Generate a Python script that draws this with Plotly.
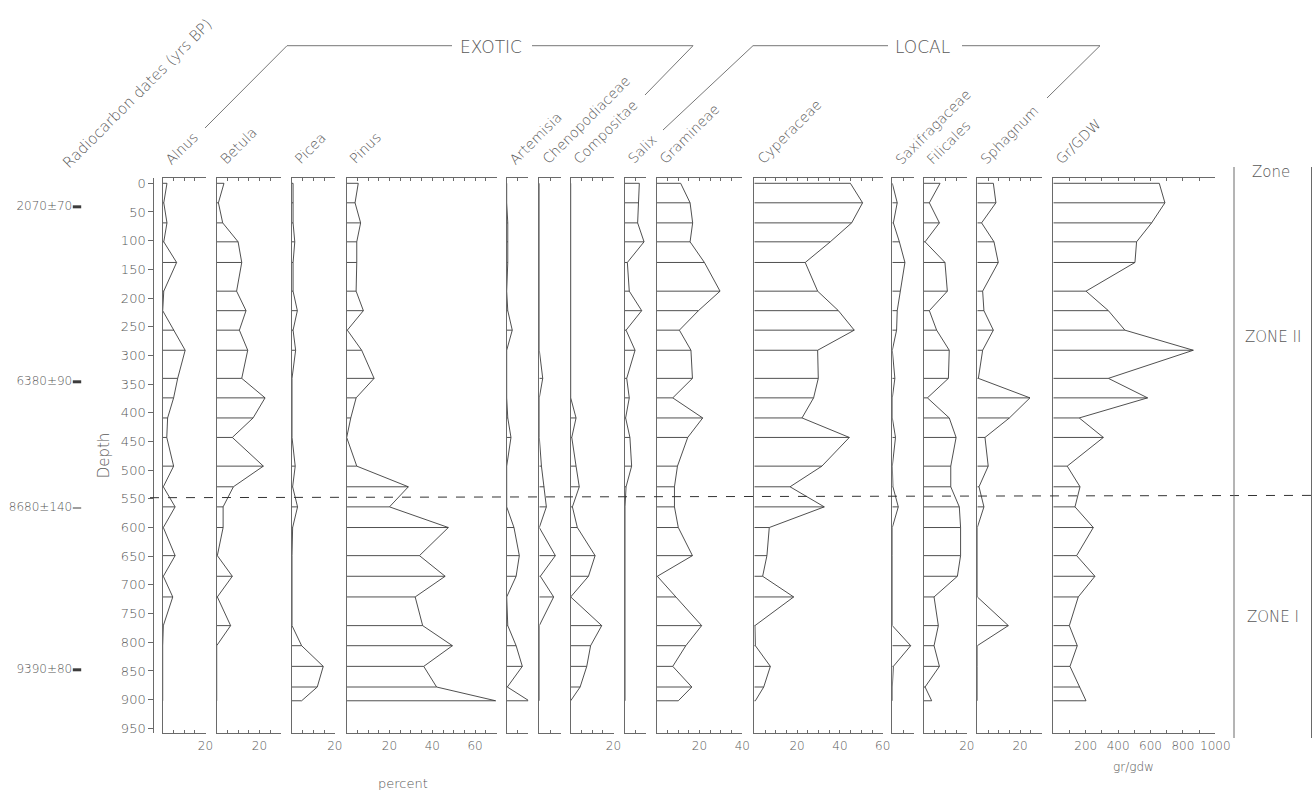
import plotly.graph_objects as go

W, H = 1313, 790

# ---------------- data ----------------
depths = [0, 34, 69, 102, 138, 188, 222, 256, 291, 340, 374, 409, 443, 493, 529,
          564, 600, 649, 685, 721, 771, 806, 842, 878, 902]

taxa = ["Alnus", "Betula", "Picea", "Pinus", "Artemisia", "Chenopodiaceae", "Compositae",
        "Salix", "Gramineae", "Cyperaceae", "Saxifragaceae", "Filicales", "Sphagnum", "Gr/GDW"]

alnus = [2, 0.5, 2, 0.5, 6.5, 0.5, 0, 5.3, 10.5, 7, 5.1, 2.3, 1.9, 5.1, 0.3,
         5.8, 0.3, 5.8, 0.3, 4.7, 0.3, 0, 0, 0, 0]
betula = [3.4, 0.8, 2.8, 10, 11.7, 9.3, 13.7, 10.6, 14.5, 11.7, 22.6, 17, 7.3, 21.8, 7.8,
          3, 3, 0.3, 7.3, 0.3, 6.5, 0, 0, 0, 0]
picea = [0.5, 0.5, 0.5, 1.3, 0.5, 0.5, 2.5, 0.5, 1.7, 0, 0, 0, 0, 1.5, 0.3,
         2.6, 0.3, 0, 0, 0, 0, 4.5, 14.6, 11.8, 4.5]
pinus = [5.4, 3.9, 6.5, 4.7, 4.7, 4.4, 7.8, 0.3, 7, 12.8, 4.4, 1.9, 0, 4.7, 28.8,
         20, 47.5, 34, 46, 32, 35.5, 49.4, 36, 42, 69.6]
artemisia = [0, 0, 0.5, 0.5, 0.5, 0, 0.5, 2.6, 0, 0, 0, 0.5, 2, 0, 0,
             0, 3.4, 5.9, 4.4, 0, 0.5, 4.4, 7.3, 0.3, 10.4]
chenopodiaceae = [0, 0, 0, 0, 0, 0, 0, 0, 0, 1.6, 0, 0, 0, 1, 2.3,
                  3.3, 0, 7.5, 0.5, 6.7, 0, 0, 0, 0, 0]
compositae = [0, 0, 0, 0, 0, 0, 0, 0, 0, 0, 0, 2.5, 0.5, 2.5, 4,
              0.8, 3.1, 11.4, 8.3, 0, 14.5, 9.3, 7.5, 4.4, 0]
salix = [6.7, 6.2, 5.9, 8.9, 1.1, 2, 7.8, 0.5, 4.7, 0.8, 2, 0.3, 2.3, 3.1, 0.5,
         0, 0, 0, 0, 0, 0, 0, 0, 0, 0]
gramineae = [11.2, 15.6, 16.8, 15.6, 22.3, 29.6, 19.5, 10.6, 16, 16.7, 7.5, 21.5, 14.5, 9.7, 8.3,
             8.3, 10.1, 16.7, 0.3, 9, 21, 13.6, 7.5, 16.4, 10.1]
cyperaceae = [44.9, 50.6, 45.5, 35.5, 23.8, 29.6, 39.3, 46.7, 29.6, 29.9, 27.7, 22.3, 44.4, 31.6, 16.7,
              32.7, 7, 5.9, 3.9, 18.4, 0.3, 0.5, 7.5, 4.4, 0.5]
saxifragaceae = [0, 2.3, 0.5, 3.3, 5.9, 3.6, 2.3, 2, 0, 1.2, 0, 0, 1.5, 0, 0.3,
                 2.8, 0, 0, 0, 0, 0, 8.6, 0.5, 0, 0]
filicales = [7.5, 2.5, 7.2, 0.5, 9.8, 10.9, 2.5, 5.9, 11.8, 11.4, 1.6, 11.8, 15, 12.5, 12.5,
             16.5, 17.1, 17.1, 15.6, 4.7, 6.7, 4.7, 7.2, 0.5, 3.6]
sphagnum = [7.5, 8.7, 2, 7.8, 9.8, 2.5, 3.1, 7.5, 2.5, 0.5, 24.6, 15, 3.6, 5.1, 0.8,
            3.1, 0, 0, 0, 0, 14.5, 0, 0, 0, 0]
gr_gdw = [654, 689, 607, 514, 504, 202, 340, 442, 864, 340, 582, 160, 309, 86, 165,
          134, 247, 144, 257, 154, 99, 148, 103, 165, 202]

series = [alnus, betula, picea, pinus, artemisia, chenopodiaceae, compositae,
          salix, gramineae, cyperaceae, saxifragaceae, filicales, sphagnum, gr_gdw]

axis_max = [20, 30, 20, 70, 10, 10, 20, 10, 40, 60, 10, 20, 30, 1000]
tick_step = [5, 5, 5, 5, 5, 5, 5, 5, 5, 5, 5, 5, 5, 100]
labeled_ticks = [[20], [20], [20], [20, 40, 60], [], [], [20], [], [20, 40], [20, 40, 60],
                 [], [20], [20], [200, 400, 600, 800, 1000]]

depth_ticks = list(range(0, 951, 50))
date_labels = ["2070±70", "6380±90", "8680±140", "9390±80"]
date_depths = [41, 346, 566, 848]
zone_labels = ["ZONE II", "ZONE I"]
zone_depths = [268, 756]
zone_boundary = 548

# ---------------- geometry (pixels) ----------------
panel_x0 = [162.7, 216.7, 292, 346.7, 506.7, 539.3, 570.7, 625, 656.7, 754.3,
            892.3, 924, 977.3, 1053.3]
px_per_unit = [2.14] * 13 + [0.162]
Y_TOP, Y_BOT = 178, 733
D0_Y, PX_PER_DEPTH = 183.3, 0.5737
yrange = [(Y_BOT - D0_Y) / PX_PER_DEPTH, (Y_TOP - D0_Y) / PX_PER_DEPTH]
ydom = [1 - Y_BOT / H, 1 - Y_TOP / H]

FONT = "DejaVu Sans"
TXT = "#585858"
AX = "#6a6a6a"
LN = "#3c3c3c"


def px(x):
    return x / W


def py(y):
    return 1 - y / H


def tfont(size):
    return dict(family=FONT, size=size, color=TXT, weight=300)


fig = go.Figure()
layout = {}

for i, (name, vals) in enumerate(zip(taxa, series)):
    xname = "x" if i == 0 else f"x{i + 1}"
    xkey = "xaxis" if i == 0 else f"xaxis{i + 1}"
    yname = f"y{i + 2}"
    ykey = f"yaxis{i + 2}"
    x0 = panel_x0[i]
    x1 = x0 + axis_max[i] * px_per_unit[i]
    tv = list(range(0, axis_max[i] + 1, tick_step[i]))
    tt = [str(v) if v in labeled_ticks[i] else "" for v in tv]
    layout[xkey] = dict(domain=[px(x0), px(x1)], range=[0, axis_max[i]], anchor=yname,
                        showline=True, linecolor=AX, linewidth=1, mirror="ticks",
                        ticks="inside", ticklen=3, tickcolor=AX, tickwidth=1,
                        tickvals=tv, ticktext=tt, showgrid=False, zeroline=False,
                        tickfont=tfont(12), ticklabelstandoff=2, fixedrange=True)
    layout[ykey] = dict(domain=ydom, range=yrange, anchor=xname, showline=True,
                        linecolor=AX, linewidth=1, showticklabels=False, ticks="",
                        showgrid=False, zeroline=False, fixedrange=True)
    # horizontal sample bars
    bx, by = [], []
    for d, v in zip(depths, vals):
        if v > 0:
            bx += [0, v, None]
            by += [d, d, None]
    fig.add_trace(go.Scatter(x=bx, y=by, mode="lines", xaxis=xname, yaxis=yname,
                             line=dict(color=LN, width=0.9), hoverinfo="skip",
                             showlegend=False, cliponaxis=False))
    # outline curve
    fig.add_trace(go.Scatter(x=vals, y=depths, mode="lines", xaxis=xname, yaxis=yname,
                             line=dict(color=LN, width=0.9), name=name,
                             showlegend=False, cliponaxis=False))
    # taxon label
    fig.add_annotation(text=name, x=px(x0 - 3), y=py(170), xref="paper", yref="paper",
                       xanchor="left", yanchor="bottom", textangle=-45, showarrow=False,
                       font=tfont(14))

# depth axis
layout["yaxis"] = dict(domain=ydom, range=yrange, anchor="free", position=px(153.3),
                       showline=True, linecolor=AX, linewidth=1, ticks="outside",
                       ticklen=5, tickcolor=AX, tickvals=depth_ticks,
                       tickfont=tfont(13),
                       title=dict(text="Depth", standoff=6, font=tfont(15)),
                       showgrid=False, zeroline=False, fixedrange=True)
layout["xaxis15"] = dict(domain=[px(70), px(84)], range=[0, 1], anchor="y", visible=False,
                         fixedrange=True)

# radiocarbon dates
fig.add_trace(go.Scatter(x=[0.5] * len(date_depths), y=date_depths, xaxis="x15", yaxis="y",
                         mode="markers+text", text=date_labels, textposition="middle left",
                         textfont=tfont(12),
                         marker=dict(symbol="line-ew", size=6, color=LN,
                                     line=dict(color=LN, width=[3, 3, 1, 3])),
                         hoverinfo="skip", showlegend=False, cliponaxis=False))

# zone boundary (dashed)
fig.add_shape(type="line", xref="paper", yref="y", x0=px(150), x1=1.0,
              y0=zone_boundary, y1=zone_boundary - 4,
              line=dict(color="#333333", width=1, dash="dash"))

# zone column
for xx in (1234, 1311.5):
    fig.add_shape(type="line", xref="paper", yref="paper", x0=px(xx), x1=px(xx),
                  y0=py(167), y1=py(738), line=dict(color=AX, width=1))
fig.add_annotation(text="Zone", x=px(1271), y=py(172), xref="paper", yref="paper",
                   xanchor="center", yanchor="middle", showarrow=False, font=tfont(15))
for lab, d in zip(zone_labels, zone_depths):
    fig.add_annotation(text=lab, x=px(1273), y=d, xref="paper", yref="y", showarrow=False,
                       xanchor="center", yanchor="middle", font=tfont(15))

# group brackets
bracket_lines = [
    [(205, 128), (287, 45.7), (452, 45.7)],
    [(532, 45.7), (693, 45.7), (645, 95)],
    [(663, 130), (753, 45.7), (888, 45.7)],
    [(962, 45.7), (1100, 45.7), (1047, 98)],
]
for pts in bracket_lines:
    for (xa, ya), (xb, yb) in zip(pts[:-1], pts[1:]):
        fig.add_shape(type="line", xref="paper", yref="paper", x0=px(xa), y0=py(ya),
                      x1=px(xb), y1=py(yb), line=dict(color="#777777", width=1))
fig.add_annotation(text="EXOTIC", x=px(491), y=py(47), xref="paper", yref="paper",
                   xanchor="center", yanchor="middle", showarrow=False, font=tfont(17))
fig.add_annotation(text="LOCAL", x=px(922), y=py(47), xref="paper", yref="paper",
                   xanchor="center", yanchor="middle", showarrow=False, font=tfont(17))
fig.add_annotation(text="Radiocarbon dates (yrs BP)", x=px(137), y=py(94), xref="paper",
                   yref="paper", xanchor="center", yanchor="middle", textangle=-45,
                   showarrow=False, font=tfont(15))
fig.add_annotation(text="percent", x=px(403), y=py(783), xref="paper", yref="paper",
                   xanchor="center", yanchor="middle", showarrow=False, font=tfont(13))
fig.add_annotation(text="gr/gdw", x=px(1133), y=py(767), xref="paper", yref="paper",
                   xanchor="center", yanchor="middle", showarrow=False, font=tfont(12))

fig.update_layout(width=W, height=H, margin=dict(l=0, r=0, t=0, b=0, autoexpand=False),
                  autosize=False, paper_bgcolor="white", plot_bgcolor="white",
                  showlegend=False, **layout)

fig.write_html("out.html",
               config={"displayModeBar": False, "responsive": False},
               post_script="document.documentElement.style.overflow='hidden';"
                           "document.body.style.margin='0px';"
                           "document.body.style.overflow='hidden';")
